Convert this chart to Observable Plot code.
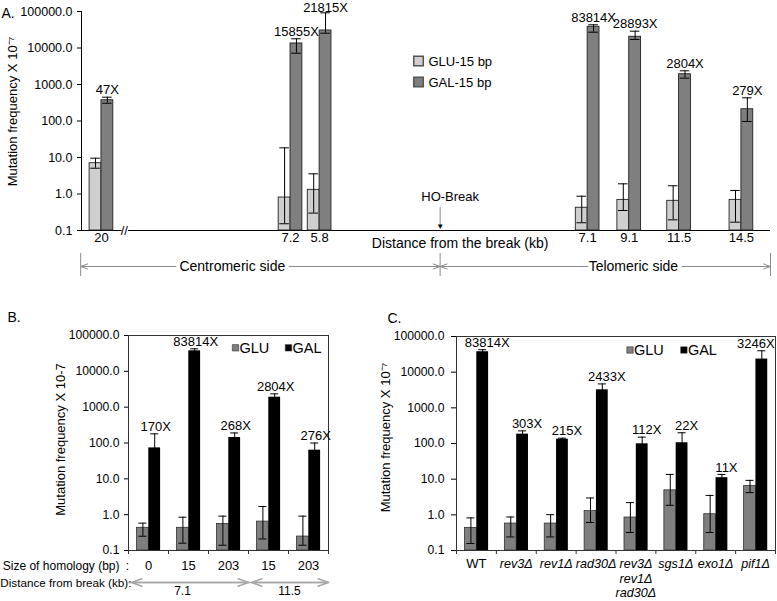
<!DOCTYPE html>
<html><head><meta charset="utf-8">
<script src="https://cdn.jsdelivr.net/npm/d3@7"></script>
<script src="https://cdn.jsdelivr.net/npm/@observablehq/plot@0.6"></script>
<style>
html,body{margin:0;padding:0;background:#fff;}
#fig{position:relative;width:777px;height:601px;overflow:hidden;font-family:"Liberation Sans",Arial,sans-serif;}
#fig > div{position:absolute;}
</style></head>
<body>
<div id="fig">
  <div id="pa" style="left:0;top:0"></div>
  <div id="pb" style="left:0;top:290px"></div>
  <div id="pc" style="left:380px;top:290px"></div>
</div>
<script>
// ---------------- Panel A data ----------------
const distanceA = [20, 7.2, 5.8, 7.1, 9.1, 11.5, 14.5];
const sideA = ["cen", "cen", "cen", "tel", "tel", "tel", "tel"];
const distanceLabelsA = ["20", "7.2", "5.8", "7.1", "9.1", "11.5", "14.5"];
const gluA   = [6.98, 0.80, 1.30, 0.42, 0.69, 0.65, 0.69];
const gluLoA = [5.09, 0.153, 0.30, 0.163, 0.353, 0.196, 0.169];
const gluHiA = [9.57, 18.4, 3.57, 0.87, 1.90, 1.68, 1.25];
const galA   = [371, 13300, 30200, 38100, 20300, 1910, 210];
const galLoA = [307, 7200, 25400, 27100, 17100, 1490, 97];
const galHiA = [449, 17900, 92000, 43200, 28900, 2370, 432];
const foldA  = ["47X", "15855X", "21815X", "83814X", "28893X", "2804X", "279X"];
const seriesA = ["GLU-15 bp", "GAL-15 bp"];

// ---------------- Panel B data ----------------
const homologyB = ["0", "15", "203", "15", "203"];
const distanceB = ["7.1", "7.1", "7.1", "11.5", "11.5"];
const gluB   = [0.43, 0.43, 0.55, 0.64, 0.245];
const gluLoB = [0.25, 0.16, 0.14, 0.21, 0.14];
const gluHiB = [0.58, 0.85, 0.91, 1.69, 0.91];
const galB   = [73, 37400, 142, 1900, 63];
const galLoB = [40, 32000, 100, 1500, 30];
const galHiB = [180, 42500, 191, 2350, 100];
const foldB  = ["170X", "83814X", "268X", "2804X", "276X"];

// ---------------- Panel C data ----------------
const strainsC = ["WT", "rev3Δ", "rev1Δ", "rad30Δ", "rev3Δ\nrev1Δ\nrad30Δ", "sgs1Δ", "exo1Δ", "pif1Δ"];
const italicC  = [false, true, true, true, true, true, true, true];
const gluC   = [0.43, 0.57, 0.57, 1.28, 0.84, 4.86, 1.04, 6.4];
const gluLoC = [0.157, 0.24, 0.24, 0.61, 0.32, 1.85, 0.32, 4.2];
const gluHiC = [0.82, 0.87, 1.01, 2.97, 2.2, 13.6, 3.5, 9.25];
const galC   = [37400, 183, 132, 3200, 98, 105, 11, 23300];
const galLoC = [32000, 140, 123, 2000, 50, 30, 9, 12000];
const galHiC = [42600, 226, 141, 4680, 151, 200, 13.6, 39800];
const foldC  = ["83814X", "303X", "215X", "2433X", "112X", "22X", "11X", "3246X"];
const seriesBC = ["GLU", "GAL"];

// ---------------- shared ----------------
const yTicks = [0.1, 1, 10, 100, 1000, 10000, 100000];
const fmt = d => d.toFixed(1);
const FONT = '"Liberation Sans", Arial, sans-serif';
const below = (px, dec) => 0.1 * Math.pow(10, -px / dec);
const above = (px, dec) => 0.1 * Math.pow(10, px / dec);
const one = [0];

// ================= Panel A =================
// x = signed distance from the HO break (kb); the far 20 kb site is drawn past an axis break
const decA = 36.5;
const axisBreak = v => (v < -18 ? v + 3.7 : v);
const rowsA = distanceA.map((d, i) => ({
  pos: sideA[i] === "cen" ? -d : d, label: distanceLabelsA[i],
  glu: gluA[i], gluLo: gluLoA[i], gluHi: gluHiA[i],
  gal: galA[i], galLo: galLoA[i], galHi: galHiA[i], fold: foldA[i]
}));
const BWA = 0.57, CAPA = 0.23;
const errA = (cx, lo, hi) => [
  Plot.ruleX(rowsA, {x: cx, y1: lo, y2: hi, stroke: "#000", strokeWidth: 1}),
  Plot.ruleY(rowsA, {y: hi, x1: d => cx(d) - CAPA, x2: d => cx(d) + CAPA, stroke: "#000", strokeWidth: 1}),
  Plot.ruleY(rowsA, {y: lo, x1: d => cx(d) - CAPA, x2: d => cx(d) + CAPA, stroke: "#000", strokeWidth: 1})
];
const colA = ["#cfcfcf", "#7f7f7f"];
const nearTop = d => d.galHi > 60000;

const plotA = Plot.plot({
  width: 777, height: 290, marginLeft: 81, marginRight: 7, marginTop: 11, marginBottom: 60,
  style: {fontFamily: FONT, fontSize: "12.5px", background: "transparent", color: "#000", overflow: "visible"},
  x: {transform: axisBreak, domain: [-17.26, 15.9], axis: null},
  y: {type: "log", domain: [0.1, 1e5], ticks: yTicks, tickFormat: fmt, tickSize: 4, tickPadding: 5, label: null, line: true},
  marks: [
    // baseline with axis break
    Plot.ruleY([0.1], {x1: () => -21, x2: () => -19, stroke: "#000"}),
    Plot.ruleY([0.1], {x1: () => -15, x2: () => 15.9, stroke: "#000"}),
    Plot.text(["//"], {x: () => -15.2, y: () => 0.1, text: d => d, fontSize: 13}),
    // bars
    Plot.rect(rowsA, {x1: d => d.pos - BWA, x2: d => d.pos, y1: () => 0.1, y2: "glu", fill: colA[0], stroke: "#222", strokeWidth: 0.9}),
    Plot.rect(rowsA, {x1: d => d.pos, x2: d => d.pos + BWA, y1: () => 0.1, y2: "gal", fill: colA[1], stroke: "#222", strokeWidth: 0.9}),
    ...errA(d => d.pos - BWA / 2, "gluLo", "gluHi"),
    ...errA(d => d.pos + BWA / 2, "galLo", "galHi"),
    Plot.text(rowsA, {filter: d => !nearTop(d), x: d => d.pos + BWA / 2, y: "galHi", dy: -7, text: "fold", fontSize: 13}),
    Plot.text(rowsA, {filter: nearTop, x: d => d.pos + BWA / 2, y: "galHi", dy: -4.5, text: "fold", fontSize: 13}),
    Plot.text(rowsA, {x: "pos", y: () => 0.1, dy: 7, text: "label", fontSize: 13}),
    // HO break
    Plot.ruleX([0], {x: () => 0, y1: () => above(23, decA), y2: () => above(5, decA), stroke: "#8c8c8c"}),
    Plot.text(["▼"], {x: () => 0, y: () => 0.1, dy: -4, text: d => d, fontSize: 8}),
    Plot.text(["HO-Break"], {x: () => 0, y: () => 0.1, dx: 10, dy: -34, text: d => d, fontSize: 13}),
    Plot.text(["Distance from the break (kb)"], {x: () => 0, y: () => 0.1, dx: 20, dy: 13, text: d => d, fontSize: 14}),
    // side arrows
    Plot.ruleX([-21, 0, 15.9], {x: d => d, y1: () => below(23, decA), y2: () => below(46, decA), stroke: "#8c8c8c"}),
    Plot.arrow([[-9, -21], [-9, 0], [8, 0], [8, 15.9]], {x1: d => d[0], x2: d => d[1], y1: () => 0.1, y2: () => 0.1, dy: 36, stroke: "#8c8c8c", strokeWidth: 1, headLength: 11, headAngle: 40}),
    Plot.text(["Centromeric side"], {x: () => -10, y: () => 0.1, dy: 36, text: d => d, fontSize: 14, stroke: "white", strokeWidth: 8, paintOrder: "stroke", fill: "#000"}),
    Plot.text(["Telomeric side"], {x: () => 9.3, y: () => 0.1, dy: 36, text: d => d, fontSize: 14, stroke: "white", strokeWidth: 8, paintOrder: "stroke", fill: "#000"}),
    // legend
    ...seriesA.map((s, i) => Plot.dot(one, {frameAnchor: "top-left", dx: 337, dy: 49.5 + 21 * i, symbol: "square", r: 5.4, fill: colA[i], stroke: "#555"})),
    ...seriesA.map((s, i) => Plot.text([s], {frameAnchor: "top-left", dx: 347, dy: 50.7 + 21 * i, text: d => d, textAnchor: "start", lineAnchor: "middle", fontSize: 13})),
    // titles
    Plot.text(["A."], {frameAnchor: "top-left", dx: -80, dy: 2, text: d => d, textAnchor: "start", lineAnchor: "middle", fontSize: 14}),
    Plot.text(["Mutation frequency X 10\u207B\u2077"], {frameAnchor: "left", dx: -69, dy: -9.5, rotate: -90, text: d => d, textAnchor: "middle", lineAnchor: "middle", fontSize: 13})
  ]
});
document.getElementById("pa").appendChild(plotA);

// ================= Panels B & C =================
function groupedPanel(o) {
  const bw = o.bw, dec = 35.8;
  const n = o.keys.length;
  const rows = o.keys.map((k, i) => ({
    key: k, label: o.labels[i], italic: o.italic ? o.italic[i] : false, last: i === n - 1,
    glu: o.glu[i], gluLo: o.gluLo[i], gluHi: o.gluHi[i],
    gal: o.gal[i], galLo: o.galLo[i], galHi: o.galHi[i], fold: o.fold[i]
  }));
  const gluL = 8.5, split = 20.3, galR = 32.1;
  const gluDx = (gluL + split) / 2 - bw / 2, galDx = (split + galR) / 2 - bw / 2;
  const err = (lo, hi, dx) => [
    Plot.ruleX(rows, {x: "key", y1: lo, y2: hi, dx, stroke: "#000", strokeWidth: 1}),
    Plot.tickY(rows, {x: "key", y: hi, dx, insetLeft: bw / 2 - 4, insetRight: bw / 2 - 4, stroke: "#000", strokeWidth: 1}),
    Plot.tickY(rows, {x: "key", y: lo, dx, insetLeft: bw / 2 - 4, insetRight: bw / 2 - 4, stroke: "#000", strokeWidth: 1})
  ];
  const cols = ["#7f7f7f", "#000"];
  const lastRow = rows.slice(-1);
  return Plot.plot({
    width: o.width, height: 311, marginLeft: o.ml, marginRight: o.mr, marginTop: o.mt, marginBottom: 51,
    style: {fontFamily: FONT, fontSize: "12.2px", background: "transparent", color: "#000", overflow: "visible"},
    x: {domain: o.keys, padding: 0, round: false, axis: null},
    y: {type: "log", domain: [0.1, 1e5], ticks: yTicks, tickFormat: fmt, tickSize: o.ts, tickPadding: o.tp, label: null},
    marks: [
      Plot.barY(rows, {x: "key", y1: () => 0.1, y2: "glu", fill: cols[0], stroke: "#333", strokeWidth: 0.8, insetLeft: gluL, insetRight: bw - split}),
      Plot.barY(rows, {x: "key", y1: () => 0.1, y2: "gal", fill: cols[1], insetLeft: split, insetRight: bw - galR}),
      ...err("gluLo", "gluHi", gluDx),
      ...err("galLo", "galHi", galDx),
      Plot.frame({stroke: "#333"}),
      Plot.ruleX(rows, {x: "key", dx: -bw / 2, y1: () => 0.1, y2: () => below(4, dec), stroke: "#333"}),
      Plot.ruleX(lastRow, {x: "key", dx: bw / 2, y1: () => 0.1, y2: () => below(4, dec), stroke: "#333"}),
      Plot.text(rows, {filter: d => !d.last, x: "key", y: "galHi", dx: galDx + o.foldDx, dy: -7, text: "fold", fontSize: 13}),
      Plot.text(rows, {filter: d => d.last, x: "key", y: "galHi", dx: galDx + o.lastFoldDx, dy: -7, text: "fold", fontSize: 13}),
      // legend
      ...seriesBC.map((s, i) => Plot.dot(one, {frameAnchor: "top-left", dx: o.legX[i], dy: o.legY, symbol: "square", r: 3.6, fill: cols[i], stroke: "#333", strokeWidth: 0.6})),
      ...seriesBC.map((s, i) => Plot.text([s], {frameAnchor: "top-left", dx: o.legX[i] + 4, dy: o.legY + 0.5, text: d => d, textAnchor: "start", lineAnchor: "middle", fontSize: 14.5})),
      // panel letter and y title
      Plot.text([o.letter], {frameAnchor: "top-left", dx: o.letterDx, dy: -18, text: d => d, textAnchor: "start", lineAnchor: "middle", fontSize: 14}),
      Plot.text([o.ytitle], {frameAnchor: "left", dx: o.titleDx, dy: o.titleDy, rotate: -90, text: d => d, textAnchor: "middle", lineAnchor: "middle", fontSize: 13}),
      ...o.extra(rows, bw, dec)
    ]
  });
}

// ---- B ----
const keysB = homologyB.map((h, i) => h + " bp / " + distanceB[i] + " kb");
const plotB = groupedPanel({
  width: 390, ml: 128, mr: 62, mt: 45, bw: 40, ts: 4, tp: 5, foldDx: 1, lastFoldDx: 1,
  keys: keysB, labels: homologyB, glu: gluB, gluLo: gluLoB, gluHi: gluHiB,
  gal: galB, galLo: galLoB, galHi: galHiB, fold: foldB,
  legX: [107, 160], legY: 12.3, letter: "B.", letterDx: -121,
  ytitle: "Mutation frequency X 10-7", titleDx: -68, titleDy: -3.5,
  extra: (rows, bw, dec) => {
    const dists = [...new Set(distanceB)];
    const spans = dists.map(d => {
      const ks = keysB.filter((k, i) => distanceB[i] === d);
      return {d, first: ks[0], lastK: ks[ks.length - 1], n: ks.length};
    });
    return [
      Plot.text(rows, {x: "key", y: () => 0.1, dy: 15.7, text: "label", fontSize: 13}),
      Plot.text(["Size of homology (bp)"], {frameAnchor: "bottom-left", dx: -9, dy: 15.7, text: d => d, textAnchor: "end", lineAnchor: "middle", fontSize: 12}),
      Plot.text([":"], {frameAnchor: "bottom-left", dx: -1, dy: 15.7, text: d => d, textAnchor: "middle", lineAnchor: "middle", fontSize: 12}),
      Plot.text(["Distance from break (kb):"], {frameAnchor: "bottom-left", dx: 3, dy: 32.7, text: d => d, textAnchor: "end", lineAnchor: "middle", fontSize: 11.7}),
      Plot.arrow(spans, {x1: "first", x2: "lastK", y1: () => 0.1, y2: () => 0.1, dy: 32, insetStart: -bw / 2, insetEnd: -bw / 2, stroke: "#a8a8a8", headLength: 11, headAngle: 40}),
      Plot.arrow(spans, {x1: "lastK", x2: "first", y1: () => 0.1, y2: () => 0.1, dy: 32, insetStart: -bw / 2, insetEnd: -bw / 2 + 3, stroke: "#a8a8a8", headLength: 11, headAngle: 40}),
      Plot.text(spans, {x: "first", y: () => 0.1, dy: 41, text: "d", fontSize: 12, filter: s => s.n === 3, dx: bw - 6}),
      Plot.text(spans, {x: "first", y: () => 0.1, dy: 41, text: "d", fontSize: 12, filter: s => s.n === 2, dx: bw / 2 + 1})
    ];
  }
});
document.getElementById("pb").appendChild(plotB);

// ---- C ----
const plotC = groupedPanel({
  width: 397, ml: 76, mr: 2, mt: 46, bw: 39.875, ts: 5, tp: 7, foldDx: 4.5, lastFoldDx: -6,
  keys: strainsC, labels: strainsC, italic: italicC, glu: gluC, gluLo: gluLoC, gluHi: gluHiC,
  gal: galC, galLo: galLoC, galHi: galHiC, fold: foldC,
  legX: [173.5, 227.4], legY: 13.5, letter: "C.", letterDx: -69,
  ytitle: "Mutation frequency X 10\u207B\u2077", titleDx: -71, titleDy: -6,
  extra: (rows) => [
    Plot.text(rows, {filter: d => !d.italic, x: "key", y: () => 0.1, dy: 8, text: "label", lineAnchor: "top", fontSize: 13}),
    Plot.text(rows, {filter: d => d.italic, x: "key", y: () => 0.1, dy: 7.5, text: "label", lineAnchor: "top", lineHeight: 1.14, fontStyle: "italic", fontSize: 12.6})
  ]
});
document.getElementById("pc").appendChild(plotC);
</script>
</body></html>
